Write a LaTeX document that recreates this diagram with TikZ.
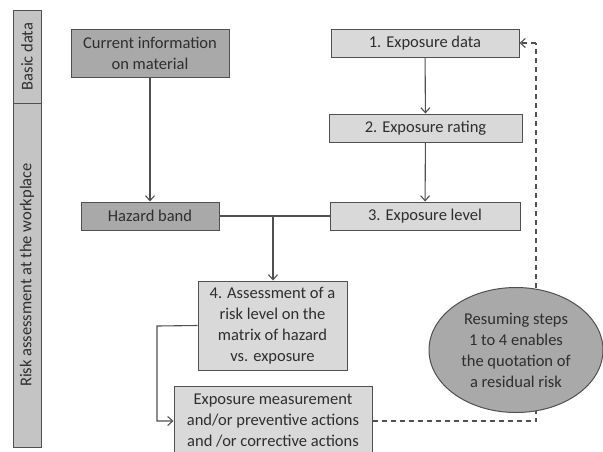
\documentclass[tikz,border=0pt]{standalone}
\usepackage{fontspec}
\setmainfont{Carlito}
\usetikzlibrary{shapes.geometric,arrows.meta}
\definecolor{darkbox}{HTML}{A9A9A9}
\definecolor{lightbox}{HTML}{D9D9D9}
\definecolor{sidebar}{HTML}{C4C4C4}
\definecolor{edge}{HTML}{505050}
\definecolor{ink}{HTML}{2E2E2E}
\tikzset{
  stagebox/.style={draw=edge, line width=1pt, text=ink, align=center, inner sep=0pt,
    font=\fontsize{16.5}{21}\selectfont},
  darkstage/.style={stagebox, fill=darkbox},
  lightstage/.style={stagebox, fill=lightbox},
  sidepart/.style={draw=edge, line width=1pt, fill=sidebar},
  flow/.style={draw=edge, line width=1.1pt, -{Straight Barb[length=5pt,width=9pt]}},
  plainflow/.style={draw=edge, line width=1.1pt},
  backflow/.style={draw=edge, line width=1.1pt, dash pattern=on 5pt off 4pt},
}
\begin{document}
\begin{tikzpicture}[x=1pt, y=-1pt]
            \clip (0,0) rectangle (603,451);
            \begin{scope}[font=\fontsize{16.5}{21}\selectfont, text=ink]
                % side bar
                \draw[sidepart] (13,10) rectangle (41,103);
                \draw[sidepart] (13,103) rectangle (41,447);
                \node[name=basic, rotate=90] at (27,56.5) (basic) {Basic data};
                \node[name=risk, rotate=90] at (27,275) (risk) {Risk assessment at the workplace};
            \end{scope}
            \begin{scope}
                \node[name=cur, darkstage, minimum width=158pt, minimum height=48pt] at (150,53) (cur) {Current information\\on material};
                \node[name=haz, darkstage, minimum width=138pt, minimum height=28pt] at (150,216) (haz) {Hazard band};
                \node[name=exp1, lightstage, minimum width=188pt, minimum height=28pt] at (425,43) (exp1) {1. Exposure data};
                \node[name=exp2, lightstage, minimum width=193pt, minimum height=28pt] at (425.5,128) (exp2) {2. Exposure rating};
                \node[name=exp3, lightstage, minimum width=190pt, minimum height=28pt] at (425,216) (exp3) {3. Exposure level};
                \node[name=assess, lightstage, minimum width=149pt, minimum height=89pt] at (272.5,325.5) (assess) {4. Assessment of a\\risk level on the\\matrix of hazard\\vs. exposure};
                \node[name=meas, lightstage, minimum width=198pt, minimum height=70pt] at (273,421) (meas) {Exposure measurement\\and/or preventive actions\\and /or corrective actions};
                \coordinate (j1) at (273,216);
                \coordinate (k1) at (157,326);
                \coordinate (d1) at (536,421);
                \coordinate (d2) at (536,43);
                \draw[flow] (cur) -- (haz);
                \draw[flow] (exp1) -- (exp2);
                \draw[flow] (exp2) -- (exp3);
                \draw[plainflow] (haz.east) -- (exp3.west);
                \draw[flow] (j1) -- (j1 |- assess.north);
                \draw[flow] (assess.west) -- (k1) |- (meas.west);
                \draw[backflow] (meas.east) -- (d1) -- (d2);
                \draw[flow, dash pattern=on 5pt off 4pt] (d2) -- (exp1.east);
                \node[name=resume, stagebox, ellipse, fill=darkbox, minimum width=174pt, minimum height=125pt] at (516,350) (resume) {Resuming steps\\1 to 4 enables\\the quotation of\\a residual risk};
            \end{scope}
        \end{tikzpicture}
\end{document}
